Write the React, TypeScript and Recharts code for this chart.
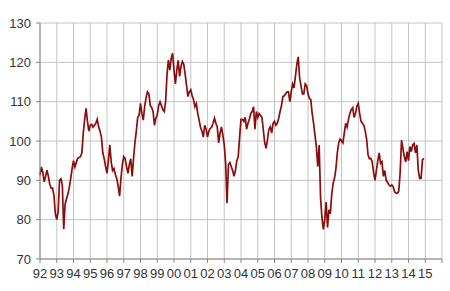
import React from 'react';
import { LineChart, Line, XAxis, YAxis, CartesianGrid } from 'recharts';

// monthly index values, Jan 1992 .. Dec 2014
const START_YEAR = 1992;

const values1990s = [
    91.3, 93.4, 92, 89.6, 91, 92.6, 91, 89, 88, 88, 86.2, 81.5, // 92
    80, 82, 90, 90.4, 88.7, 77.6, 84, 85.3, 86.5, 88.2, 90.5, 93, // 93
    95, 93.4, 94.5, 95.6, 95.8, 96, 97, 102, 105.5, 108.3, 105, 102.5, // 94
    104, 104.2, 103.5, 104, 104.5, 105.5, 103.6, 102.5, 101, 97, 95.5, 93.5, // 95
    91.8, 95, 99, 94.7, 92.5, 93, 91.5, 90.5, 88.5, 86, 90.5, 94, // 96
    96, 95.5, 93.5, 91.8, 94, 95.5, 91, 95.5, 99.5, 102.5, 106, 106.6, // 97
    109.6, 107, 105.3, 108.8, 111, 112.5, 112, 109, 108.5, 107.5, 104, 105.8, // 98
    106.6, 109, 110, 109, 108, 107.5, 110, 117, 120.6, 118, 121, 122.3, // 99
];

const values2000s = [
    118, 114.5, 118, 120.5, 116.4, 119, 120.2, 119.5, 117, 114, 111.3, 112.5, // 00
    113, 111.5, 110.5, 108.7, 109.5, 107, 105.3, 103.5, 102.5, 101, 104, 103, // 01
    101, 102.5, 103.2, 103.5, 104.5, 105.8, 104.5, 103.6, 99.5, 102, 103.6, 101.5, // 02
    99, 94.3, 84.2, 94, 94.5, 93.5, 92.5, 91, 92.5, 95, 96, 101, // 03
    105.5, 105.5, 105, 106, 103, 104.5, 105.5, 107, 107.5, 108.7, 103, 107.5, // 04
    106, 107, 106.5, 106, 102.8, 99.5, 98.1, 100.5, 103, 103.6, 102, 104.5, // 05
    105, 104, 104.5, 105.8, 107.5, 109, 111.3, 111.5, 112, 112.5, 112.5, 110, // 06
    112.5, 114.5, 113.5, 116.5, 119.5, 121.4, 116, 114, 112, 112, 114.5, 114, // 07
    112, 110.8, 110.5, 107, 104.5, 101.5, 98.5, 93.5, 99, 85.5, 80.5, 77.5, // 08
    80, 84.5, 78, 82.5, 81.5, 86.5, 89.2, 90.5, 93, 97, 99.5, 100.5, // 09
];

const values2010s = [
    100, 99.5, 102, 104.5, 103.5, 105.5, 107, 108, 108.5, 106, 107, 108.8, // 10
    109.6, 107, 105, 104.5, 104, 102.5, 100.5, 96.5, 95.5, 95.6, 94.7, 92, // 11
    90, 92.5, 95, 97, 94.3, 94.7, 91, 92.5, 90, 89.5, 88.8, 88.5, // 12
    88.8, 88.4, 87.1, 86.8, 86.7, 87.2, 91.8, 100.2, 98.1, 96, 94.7, 97.3, // 13
    95, 98.6, 97.3, 99, 99.4, 97, 99, 92.6, 90.5, 90.5, 95.2, 95.6, // 14
];

const yearTicks = Array.from({ length: 25 }, (_, i) => START_YEAR + i); // 1992..2016
const yTicks = [70, 80, 90, 100, 110, 120, 130];

const data = [...values1990s, ...values2000s, ...values2010s].map((v, i) => ({
    t: START_YEAR + i / 12,
    value: v,
}));

const fmtYear = (y: number) => (y >= 2016 ? '' : String(y % 100).padStart(2, '0'));

const tick = { fill: '#333', fontSize: 13, fontFamily: 'Liberation Sans, Arial, sans-serif' };
const axisLine = { stroke: '#868686' };

export default function App() {
    return (
        <div style={{ position: 'absolute', left: 0, top: 0, background: '#fff' }}>
            <LineChart width={450} height={291} data={data} margin={{ top: 23, right: 8, bottom: 0, left: 0 }}>
                <CartesianGrid stroke="#c4c4c4" strokeWidth={1} />
                <XAxis
                    dataKey="t"
                    type="number"
                    domain={[1992, 2016]}
                    ticks={yearTicks}
                    interval={0}
                    tickFormatter={fmtYear}
                    tick={tick}
                    axisLine={axisLine}
                    tickLine={axisLine}
                    tickSize={4}
                    tickMargin={6}
                    height={32}
                />
                <YAxis
                    type="number"
                    domain={[70, 130]}
                    ticks={yTicks}
                    interval={0}
                    tick={tick}
                    axisLine={axisLine}
                    tickLine={axisLine}
                    tickSize={4}
                    tickMargin={5}
                    width={40}
                />
                <Line
                    type="linear"
                    dataKey="value"
                    stroke="#8b0c0c"
                    strokeWidth={1.7}
                    dot={false}
                    isAnimationActive={false}
                />
            </LineChart>
        </div>
    );
}
